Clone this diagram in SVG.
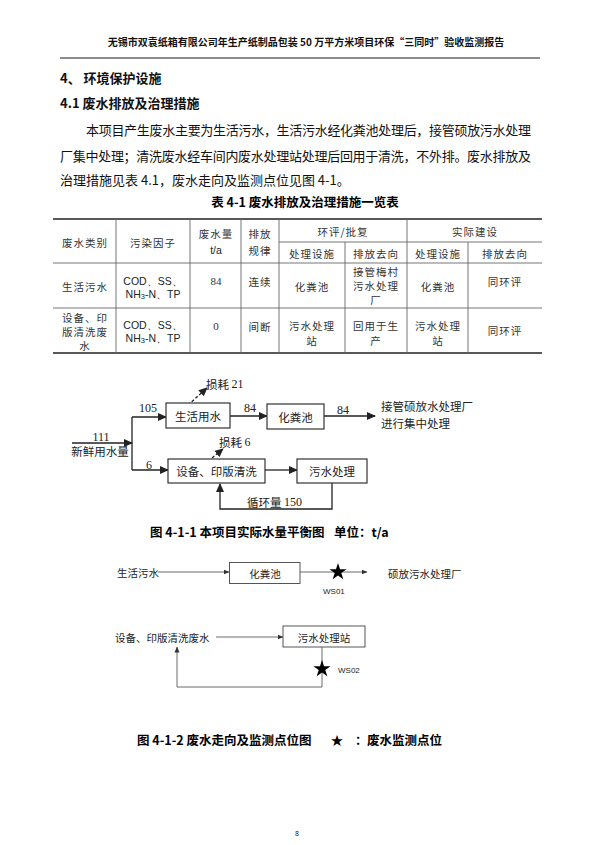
<svg xmlns="http://www.w3.org/2000/svg" width="607" height="845" viewBox="0 0 607 845">
<style>
text{font-family:"Noto Sans CJK SC","Noto Sans",sans-serif;fill:#111;dominant-baseline:central}
.hd{font-size:10px;font-weight:bold}
.h{font-size:13px;font-weight:bold}
.p{font-size:13px}
.cap{font-size:12.5px;font-weight:bold;fill:#000}
.t{font-size:10.5px;letter-spacing:1px;text-anchor:middle;fill:#333}
.tl{font-family:"Liberation Sans","Noto Sans",sans-serif;font-size:10.5px;text-anchor:middle;fill:#222}
.tn{font-family:"Liberation Serif",serif;font-size:11px;text-anchor:middle;fill:#333}
.d1{font-size:11.5px;fill:#222}
.n1{font-family:"Liberation Serif",serif;font-size:12px;fill:#222;text-anchor:middle}
.d2{font-size:10.5px;fill:#222}
.ws{font-family:"Liberation Sans",sans-serif;font-size:8px;fill:#222}
.tb{stroke:#222;stroke-width:1.6}
.ti{stroke:#666;stroke-width:0.9}
.box1{fill:#fff;stroke:#333;stroke-width:1.2}
.box2{fill:#fff;stroke:#444;stroke-width:0.9}
.c1{fill:none;stroke:#222;stroke-width:1.3}
.c1d{fill:none;stroke:#222;stroke-width:1.3;stroke-dasharray:3 2}
.c2{fill:none;stroke:#444;stroke-width:0.8}
</style>
<defs>
<marker id="a1" markerUnits="userSpaceOnUse" markerWidth="9" markerHeight="8" refX="8" refY="4" orient="auto"><path d="M0,0 L9,4 L0,8 Z" fill="#222"/></marker>
<marker id="a2" markerUnits="userSpaceOnUse" markerWidth="6" markerHeight="6" refX="5.5" refY="3" orient="auto"><path d="M0,0.5 L6,3 L0,5.5 Z" fill="#333"/></marker>
<path id="star" d="M0,-9 L2.03,-2.78 L8.56,-2.78 L3.27,1.06 L5.29,7.28 L0,3.44 L-5.29,7.28 L-3.27,1.06 L-8.56,-2.78 L-2.03,-2.78 Z" fill="#000"/>
</defs>
<rect width="607" height="845" fill="#fff"/>

<!-- page header -->
<text class="hd" x="306" y="41" text-anchor="middle">无锡市双袁纸箱有限公司年生产纸制品包装 50 万平方米项目环保“三同时”验收监测报告</text>
<line x1="60" y1="58" x2="540" y2="58" stroke="#000" stroke-width="0.9"/>

<!-- section text -->
<text class="h" x="60" y="77">4、  环境保护设施</text>
<text class="h" x="60" y="102">4.1 废水排放及治理措施</text>
<text class="p" x="86" y="129" textLength="445" lengthAdjust="spacing">本项目产生废水主要为生活污水，生活污水经化粪池处理后，接管硕放污水处理</text>
<text class="p" x="60" y="155" textLength="471" lengthAdjust="spacing">厂集中处理；清洗废水经车间内废水处理站处理后回用于清洗，不外排。废水排放及</text>
<text class="p" x="60" y="179">治理措施见表 4.1，废水走向及监测点位见图 4-1。</text>

<!-- table -->
<text class="cap" x="305" y="201" text-anchor="middle">表 4-1  废水排放及治理措施一览表</text>
<g id="table">
<line class="tb" x1="53" y1="219" x2="542" y2="219"/>
<line class="tb" x1="53" y1="353" x2="542" y2="353"/>
<line class="ti" x1="279" y1="242" x2="542" y2="242"/>
<line class="ti" x1="53" y1="263" x2="542" y2="263"/>
<line class="ti" x1="53" y1="308" x2="542" y2="308"/>
<line class="ti" x1="116" y1="219" x2="116" y2="353"/>
<line class="ti" x1="190" y1="219" x2="190" y2="353"/>
<line class="ti" x1="241" y1="219" x2="241" y2="353"/>
<line class="ti" x1="279" y1="219" x2="279" y2="353"/>
<line class="ti" x1="345" y1="242" x2="345" y2="353"/>
<line class="ti" x1="407" y1="219" x2="407" y2="353"/>
<line class="ti" x1="468" y1="242" x2="468" y2="353"/>

<text class="t" x="85" y="242">废水类别</text>
<text class="t" x="153" y="242">污染因子</text>
<text class="t" x="216" y="233">废水量</text>
<text class="tl" x="216" y="250">t/a</text>
<text class="t" x="260" y="233">排放</text>
<text class="t" x="260" y="250">规律</text>
<text class="t" x="343" y="231">环评/批复</text>
<text class="t" x="475" y="231">实际建设</text>
<text class="t" x="312" y="253">处理设施</text>
<text class="t" x="376" y="253">排放去向</text>
<text class="t" x="438" y="253">处理设施</text>
<text class="t" x="505" y="253">排放去向</text>

<text class="t" x="85" y="286">生活污水</text>
<text class="tl" x="153" y="281">COD、SS、</text>
<text class="tl" x="153" y="294">NH<tspan font-size="7.5" dy="2">3</tspan><tspan dy="-2">-N、TP</tspan></text>
<text class="tn" x="216" y="281">84</text>
<text class="t" x="260" y="281">连续</text>
<text class="t" x="312" y="286">化粪池</text>
<text class="t" x="376" y="271">接管梅村</text>
<text class="t" x="376" y="285">污水处理</text>
<text class="t" x="376" y="299">厂</text>
<text class="t" x="438" y="286">化粪池</text>
<text class="t" x="505" y="281">同环评</text>

<text class="t" x="85" y="317">设备、印</text>
<text class="t" x="85" y="331">版清洗废</text>
<text class="t" x="85" y="345">水</text>
<text class="tl" x="153" y="325">COD、SS、</text>
<text class="tl" x="153" y="338">NH<tspan font-size="7.5" dy="2">3</tspan><tspan dy="-2">-N、TP</tspan></text>
<text class="tn" x="216" y="326">0</text>
<text class="t" x="260" y="326">间断</text>
<text class="t" x="312" y="325">污水处理</text>
<text class="t" x="312" y="340">站</text>
<text class="t" x="376" y="325">回用于生</text>
<text class="t" x="376" y="340">产</text>
<text class="t" x="438" y="325">污水处理</text>
<text class="t" x="438" y="340">站</text>
<text class="t" x="505" y="330">同环评</text>
</g>

<!-- figure 4-1-1 -->
<g id="connectors1">
<line class="c1" x1="72" y1="443" x2="132" y2="443" marker-end="url(#a1)"/>
<line class="c1" x1="132" y1="417" x2="132" y2="470"/>
<line class="c1" x1="132" y1="417" x2="166" y2="417" marker-end="url(#a1)"/>
<line class="c1" x1="132" y1="470" x2="168" y2="470" marker-end="url(#a1)"/>
<line class="c1d" x1="188" y1="405" x2="207" y2="388" marker-end="url(#a1)"/>
<line class="c1" x1="230" y1="416" x2="267" y2="416" marker-end="url(#a1)"/>
<line class="c1" x1="324" y1="416" x2="375" y2="416" marker-end="url(#a1)"/>
<line class="c1d" x1="212" y1="458" x2="223" y2="449" marker-end="url(#a1)"/>
<line class="c1" x1="265" y1="470" x2="297" y2="470" marker-end="url(#a1)"/>
<polyline class="c1" points="332,483 332,509 220,509 220,484" marker-end="url(#a1)"/>
</g>
<text class="n1" x="101" y="437">111</text>
<text class="d1" x="100" y="451" text-anchor="middle">新鲜用水量</text>
<text class="n1" x="148" y="408">105</text>
<text class="n1" x="250" y="408">84</text>
<text class="n1" x="343" y="410">84</text>
<text class="n1" x="149" y="465">6</text>
<text class="d1" x="206" y="384">损耗 <tspan font-family="Liberation Serif,serif" font-size="12">21</tspan></text>
<text class="d1" x="219" y="442">损耗 <tspan font-family="Liberation Serif,serif" font-size="12">6</tspan></text>
<text class="d1" x="247" y="502">循环量 <tspan font-family="Liberation Serif,serif" font-size="12">150</tspan></text>
<text class="d1" x="381" y="406">接管硕放水处理厂</text>
<text class="d1" x="381" y="423">进行集中处理</text>
<g id="n-shenghuo"><rect class="box1" x="166" y="403" width="64" height="25"/><text class="d1" x="198" y="416" text-anchor="middle">生活用水</text></g>
<g id="n-huafenchi"><rect class="box1" x="267" y="404" width="57" height="25"/><text class="d1" x="295.5" y="416.5" text-anchor="middle">化粪池</text></g>
<g id="n-qingxi"><rect class="box1" x="168" y="459" width="97" height="24"/><text class="d1" x="216.5" y="471" text-anchor="middle">设备、印版清洗</text></g>
<g id="n-wushui"><rect class="box1" x="297" y="459" width="70" height="24"/><text class="d1" x="332" y="471" text-anchor="middle">污水处理</text></g>
<text class="cap" x="150" y="531" font-size="11.5">图 4-1-1 本项目实际水量平衡图</text>
<text class="cap" x="334" y="531" font-size="11.5">单位：t/a</text>

<!-- figure 4-1-2 -->
<g id="connectors2">
<line class="c2" x1="158" y1="572" x2="229" y2="572" marker-end="url(#a2)"/>
<line class="c2" x1="300" y1="572" x2="367" y2="572" marker-end="url(#a2)"/>
<line class="c2" x1="216" y1="637" x2="283" y2="637" marker-end="url(#a2)"/>
<polyline class="c2" points="322,647 322,687 177,687 177,647" marker-end="url(#a2)"/>
</g>
<text class="d2" x="117" y="572">生活污水</text>
<g id="n2-huafenchi"><rect class="box2" x="229.5" y="562.5" width="70.5" height="21"/><text class="d2" x="265" y="573" text-anchor="middle">化粪池</text></g>
<use href="#star" x="338" y="572"/>
<text class="ws" x="323" y="591">WS01</text>
<text class="d2" x="388" y="573">硕放污水处理厂</text>
<text class="d2" x="115" y="637">设备、印版清洗废水</text>
<g id="n2-wushuizhan"><rect class="box2" x="283" y="626" width="82" height="21"/><text class="d2" x="324" y="637" text-anchor="middle">污水处理站</text></g>
<use href="#star" x="322" y="669"/>
<text class="ws" x="338" y="670">WS02</text>

<text class="cap" x="137" y="739">图 4-1-2  废水走向及监测点位图</text>
<text class="cap" x="337" y="739" text-anchor="middle">★</text>
<text class="cap" x="355" y="739" font-size="8">：</text>
<text class="cap" x="367" y="739">废水监测点位</text>

<text x="297" y="833" font-family="Liberation Sans,sans-serif" font-size="7" text-anchor="middle">8</text>
</svg>
